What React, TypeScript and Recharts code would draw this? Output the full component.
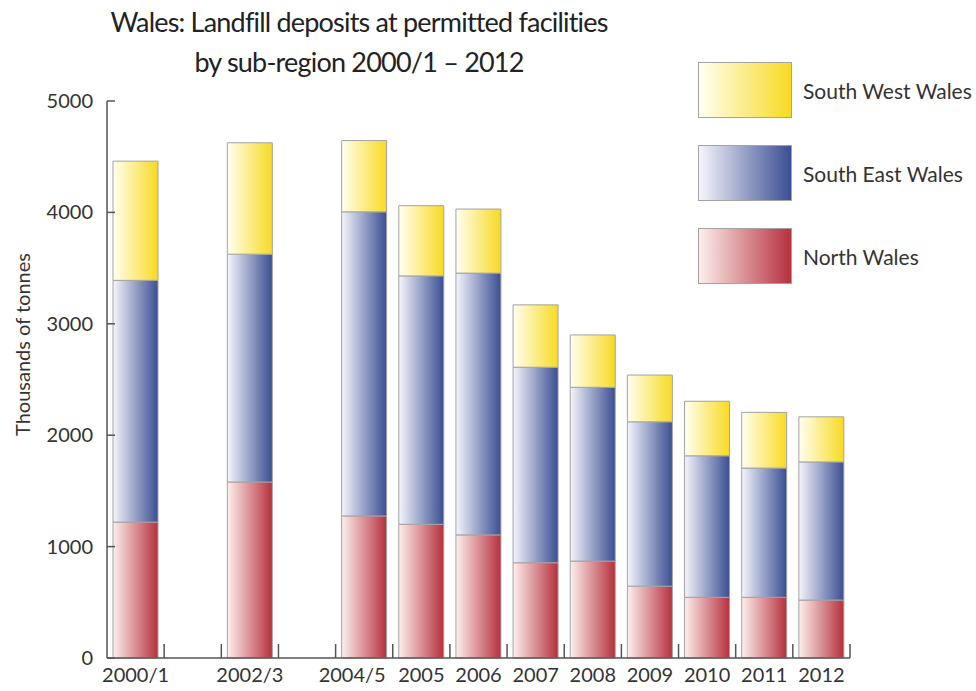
import { Bar, BarChart, Label, XAxis, YAxis } from 'recharts';

const categories = ['2000/1', '', '2002/3', '', '2004/5', '2005', '2006', '2007', '2008', '2009', '2010', '2011', '2012'];
const northWales = [1220, null, 1580, null, 1275, 1200, 1105, 855, 870, 645, 545, 545, 520];
const southEastWales = [2170, null, 2045, null, 2730, 2230, 2350, 1755, 1560, 1475, 1270, 1160, 1240];
const southWestWales = [1070, null, 1000, null, 640, 630, 575, 560, 470, 420, 490, 500, 405];
const yTicks = [0, 1000, 2000, 3000, 4000, 5000];

const series = [
  { key: 'sw', name: 'South West Wales', from: '#fffff2', to: '#f8da22' },
  { key: 'se', name: 'South East Wales', from: '#f5f5fb', to: '#3a4e92' },
  { key: 'nw', name: 'North Wales', from: '#fdefec', to: '#b6303e' },
];

const data = categories.map((year, i) => ({
  year,
  nw: northWales[i],
  se: southEastWales[i],
  sw: southWestWales[i],
}));

const W = 976;
const H = 691;
const margin = { top: 101, right: 126, bottom: 0, left: 0 };
const yAxisWidth = 107;
const halfBand = (W - margin.right - yAxisWidth) / categories.length / 2;
const font = 'Lato, "Open Sans", sans-serif';
const axisColor = '#555';
// the original nudges this label left so it doesn't run into "2005"
const labelShift: Record<string, number> = { '2004/5': -12 };

function XTick({ x, y, payload }: any) {
  const axisY = y - 4;
  return (
    <g>
      <line x1={x + halfBand} x2={x + halfBand} y1={axisY} y2={axisY - 14} stroke={axisColor} strokeWidth={1.5} />
      {payload.value ? (
        <text
          x={x + (labelShift[payload.value] || 0)}
          y={axisY + 24}
          textAnchor="middle"
          fontSize={20}
          fill="#333"
          fontFamily={font}
        >
          {payload.value}
        </text>
      ) : null}
    </g>
  );
}

function YTick({ x, y, payload }: any) {
  return (
    <g>
      <line x1={x + 14} x2={x + 22} y1={y} y2={y} stroke={axisColor} strokeWidth={1.5} />
      <text x={x} y={y + 7} textAnchor="end" fontSize={20} fill="#333" fontFamily={font}>
        {payload.value}
      </text>
    </g>
  );
}

function YLabel({ viewBox }: any) {
  const cx = viewBox.x + 22;
  const cy = viewBox.y + viewBox.height / 2 - 35;
  return (
    <text
      x={cx}
      y={cy}
      transform={`rotate(-90 ${cx} ${cy})`}
      textAnchor="middle"
      dominantBaseline="central"
      fontSize={20}
      fill="#333"
      fontFamily={font}
    >
      Thousands of tonnes
    </text>
  );
}

export default function App() {
  return (
    <div style={{ position: 'absolute', left: 0, top: 0, width: W, height: H, background: '#fff', fontFamily: font }}>
      <div
        style={{
          position: 'absolute',
          left: 0,
          top: 2,
          width: 718,
          textAlign: 'center',
          fontSize: 27,
          letterSpacing: -0.8,
          lineHeight: '40px',
          color: '#222',
        }}
      >
        Wales: Landfill deposits at permitted facilities
        <br />
        by sub-region 2000/1 – 2012
      </div>

      <BarChart width={W} height={H} data={data} margin={margin} barSize={45}>
        <defs>
          {series.map((s) => (
            <linearGradient key={s.key} id={`grad-${s.key}`} x1="0" x2="1" y1="0" y2="0">
              <stop offset="0%" stopColor={s.from} />
              <stop offset="100%" stopColor={s.to} />
            </linearGradient>
          ))}
        </defs>
        <XAxis
          dataKey="year"
          height={33}
          interval={0}
          tickLine={false}
          tickSize={0}
          tickMargin={4}
          axisLine={{ stroke: axisColor, strokeWidth: 1.5 }}
          tick={<XTick />}
        />
        <YAxis
          width={yAxisWidth}
          domain={[0, 5000]}
          ticks={yTicks}
          tickLine={false}
          tickSize={0}
          tickMargin={14}
          axisLine={{ stroke: axisColor, strokeWidth: 1.5 }}
          tick={<YTick />}
        >
          <Label content={<YLabel />} />
        </YAxis>
        <Bar dataKey="nw" stackId="a" fill="url(#grad-nw)" stroke="#a3a3a3" strokeWidth={1} isAnimationActive={false} />
        <Bar dataKey="se" stackId="a" fill="url(#grad-se)" stroke="#a3a3a3" strokeWidth={1} isAnimationActive={false} />
        <Bar dataKey="sw" stackId="a" fill="url(#grad-sw)" stroke="#a3a3a3" strokeWidth={1} isAnimationActive={false} />
      </BarChart>

      <div style={{ position: 'absolute', left: 698, top: 62 }}>
        {series.map((s, i) => (
          <div key={s.key} style={{ position: 'absolute', left: 0, top: i * 83, width: 280, height: 56 }}>
            <div
              style={{
                position: 'absolute',
                left: 0,
                top: 0,
                width: 92,
                height: 54,
                border: '1px solid #a3a3a3',
                background: `linear-gradient(to right, ${s.from}, ${s.to})`,
              }}
            />
            <div style={{ position: 'absolute', left: 105, top: 16, fontSize: 21, color: '#333', whiteSpace: 'nowrap' }}>
              {s.name}
            </div>
          </div>
        ))}
      </div>
    </div>
  );
}
